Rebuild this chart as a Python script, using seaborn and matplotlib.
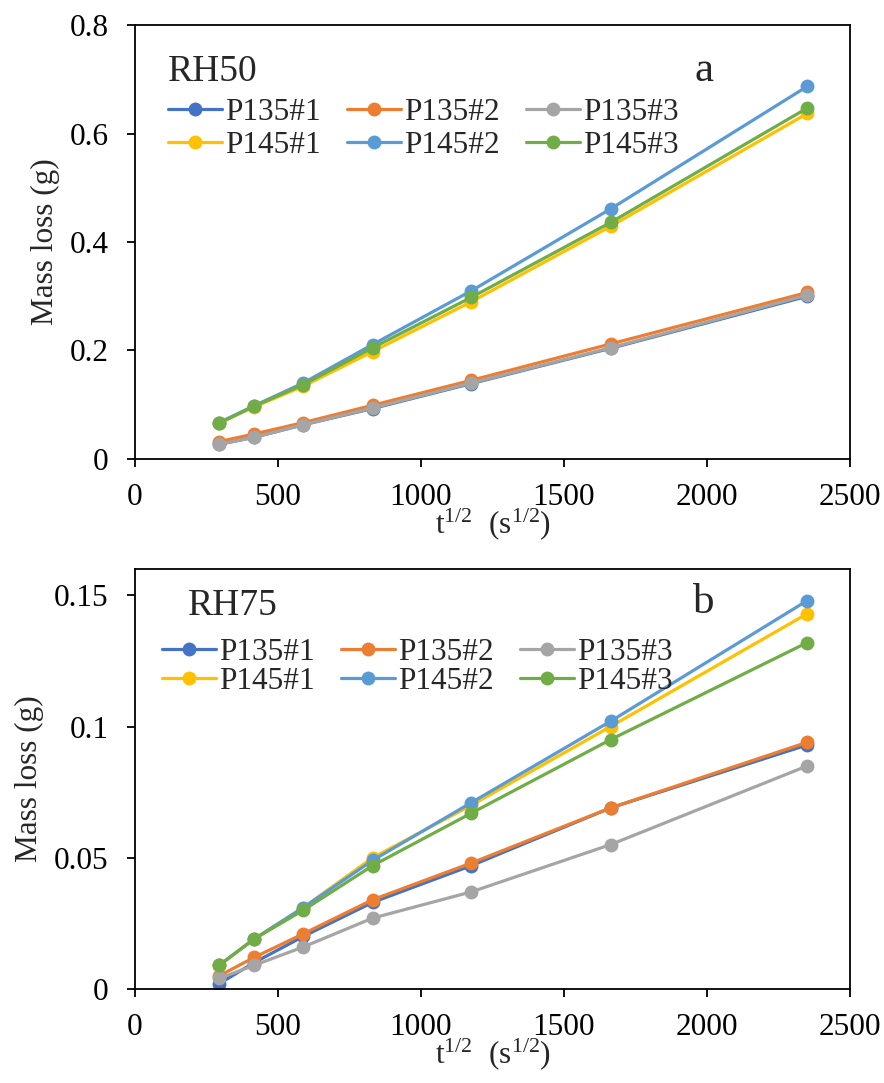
import numpy as np
import pandas as pd
import matplotlib
matplotlib.use("Agg")
import matplotlib.pyplot as plt
import seaborn as sns

# ---------------- data ----------------
sqrt_t = [294, 416, 588, 831, 1176, 1663, 2351]
series_names = ["P135#1", "P135#2", "P135#3", "P145#1", "P145#2", "P145#3"]

# RH50 (panel a)
rh50_p135_1 = [0.027, 0.040, 0.063, 0.093, 0.139, 0.204, 0.300]
rh50_p135_2 = [0.032, 0.046, 0.067, 0.099, 0.145, 0.212, 0.307]
rh50_p135_3 = [0.027, 0.040, 0.063, 0.094, 0.140, 0.205, 0.302]
rh50_p145_1 = [0.066, 0.096, 0.134, 0.198, 0.290, 0.429, 0.637]
rh50_p145_2 = [0.067, 0.098, 0.140, 0.211, 0.310, 0.461, 0.687]
rh50_p145_3 = [0.066, 0.097, 0.137, 0.205, 0.298, 0.436, 0.647]

# RH75 (panel b)
rh75_p135_1 = [0.002, 0.010, 0.020, 0.033, 0.047, 0.069, 0.093]
rh75_p135_2 = [0.005, 0.012, 0.021, 0.034, 0.048, 0.069, 0.094]
rh75_p135_3 = [0.004, 0.009, 0.016, 0.027, 0.037, 0.055, 0.085]
rh75_p145_1 = [0.009, 0.019, 0.031, 0.050, 0.070, 0.100, 0.143]
rh75_p145_2 = [0.009, 0.019, 0.031, 0.049, 0.071, 0.102, 0.148]
rh75_p145_3 = [0.009, 0.019, 0.030, 0.047, 0.067, 0.095, 0.132]

x_ticks = [0, 500, 1000, 1500, 2000, 2500]
y_ticks_a = [0, 0.2, 0.4, 0.6, 0.8]
y_ticks_b = [0, 0.05, 0.1, 0.15]
y_ticklabels_a = ["0", "0.2", "0.4", "0.6", "0.8"]
y_ticklabels_b = ["0", "0.05", "0.1", "0.15"]

colors = ["#4472C4", "#ED7D31", "#A5A5A5", "#FFC000", "#5B9BD5", "#70AD47"]


def long_frame(series_list):
    rows = []
    for name, vals in zip(series_names, series_list):
        for x, y in zip(sqrt_t, vals):
            rows.append({"x": x, "y": y, "series": name})
    return pd.DataFrame(rows)


df_a = long_frame([rh50_p135_1, rh50_p135_2, rh50_p135_3,
                   rh50_p145_1, rh50_p145_2, rh50_p145_3])
df_b = long_frame([rh75_p135_1, rh75_p135_2, rh75_p135_3,
                   rh75_p145_1, rh75_p145_2, rh75_p145_3])

# ---------------- style ----------------
sns.set_theme(style="ticks")
plt.rcParams["font.family"] = ["Liberation Serif", "DejaVu Serif"]
plt.rcParams["mathtext.default"] = "regular"
plt.rcParams["axes.edgecolor"] = "black"
plt.rcParams["axes.linewidth"] = 1.3

FS = 22.5

fig = plt.figure(figsize=(8.84, 10.83), dpi=100)
ax_a = fig.add_axes([0.1527, 0.5762, 0.8088, 0.4007])
ax_b = fig.add_axes([0.1527, 0.0868, 0.8088, 0.3878])


def draw(ax, df, yticks, yticklabels, ylim, tag, letter, tag_xy, letter_xy,
         leg_anchor, leg_spacing):
    sns.lineplot(data=df, x="x", y="y", hue="series", hue_order=series_names,
                 palette=colors, marker="o", markersize=10, markeredgewidth=0,
                 linewidth=2.3, sort=False, ax=ax, legend=True)
    ax.set_xlim(0, 2500)
    ax.set_ylim(*ylim)
    ax.set_xticks(x_ticks)
    ax.set_xticklabels([str(v) for v in x_ticks])
    ax.set_yticks(yticks)
    ax.set_yticklabels(yticklabels)
    ax.tick_params(axis="both", direction="out", length=6, width=1.3,
                   labelsize=FS, colors="black")
    ax.tick_params(axis="y", pad=13)
    ax.tick_params(axis="x", pad=11)
    for sp in ax.spines.values():
        sp.set_visible(True)
        sp.set_color("black")
        sp.set_linewidth(1.3)
    ax.set_xlabel("t$^{1/2}$  (s$^{1/2}$)", fontsize=FS, labelpad=-4)
    ax.set_ylabel("Mass loss (g)", fontsize=FS, labelpad=7)
    handles, labels = ax.get_legend_handles_labels()
    order = [0, 3, 1, 4, 2, 5]
    ax.legend([handles[i] for i in order], [labels[i] for i in order],
              ncol=3, loc="center left", bbox_to_anchor=leg_anchor,
              frameon=False, fontsize=FS, handlelength=1.72, handletextpad=0.1,
              columnspacing=0.85, labelspacing=leg_spacing, borderaxespad=0,
              borderpad=0)
    ax.text(tag_xy[0], tag_xy[1], tag, transform=ax.transAxes, fontsize=27,
            ha="left", va="baseline")
    ax.text(letter_xy[0], letter_xy[1], letter, transform=ax.transAxes, fontsize=31,
            ha="center", va="baseline")


draw(ax_a, df_a, y_ticks_a, y_ticklabels_a, (0, 0.8), "RH50", "a",
     (0.046, 0.871), (0.796, 0.871), (0.046, 0.760), 0.12)
draw(ax_b, df_b, y_ticks_b, y_ticklabels_b, (0, 0.16), "RH75", "b",
     (0.074, 0.890), (0.796, 0.895), (0.038, 0.766), 0.0)

fig.savefig("out.png", dpi=100)
